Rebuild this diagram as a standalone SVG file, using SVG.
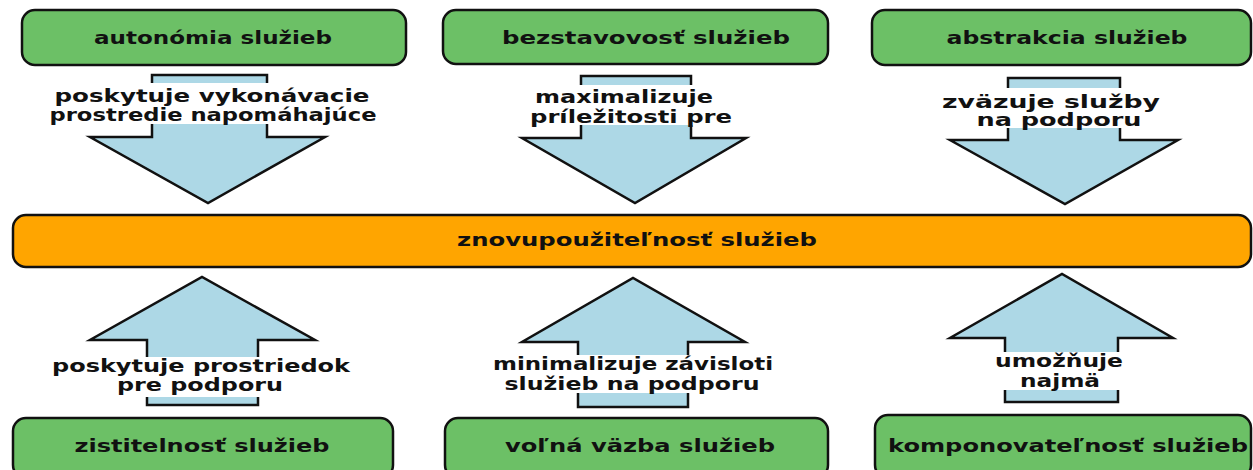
<svg xmlns="http://www.w3.org/2000/svg" width="1253" height="470" viewBox="0 0 1253 470">
  <style>
    .box { fill: #6cc066; stroke: #111; stroke-width: 2.5; }
    .core { fill: #ffa500; stroke: #111; stroke-width: 2.5; }
    .arrow { fill: #add8e6; stroke: #111; stroke-width: 2.5; stroke-linejoin: miter; }
    .band { fill: #fff; }
    text { font-family: "DejaVu Sans", "Liberation Sans", sans-serif; font-weight: bold; fill: #111; text-anchor: middle; }
    .t { font-size: 18px; }
    .l { font-size: 17px; }
  </style>

  <rect width="1253" height="470" fill="#fff"/>

  <!-- connectors: block arrows with their labels -->
  <g id="connectors">
    <g id="arrow-autonomia">
      <polygon class="arrow" points="152,75 267,75 267,137 325,137 208,203 90,137 152,137"/>
      <rect class="band" x="48" y="83" width="332" height="41"/>
      <text class="l" x="212" y="102" textLength="315" lengthAdjust="spacingAndGlyphs">poskytuje vykonávacie</text>
      <text class="l" x="213" y="121" textLength="327" lengthAdjust="spacingAndGlyphs">prostredie napomáhajúce</text>
    </g>
    <g id="arrow-bezstavovost">
      <polygon class="arrow" points="581,76 691,76 691,138 746,138 635,203 522,138 581,138"/>
      <rect class="band" x="528" y="85" width="207" height="40"/>
      <text class="l" x="624" y="103" textLength="178" lengthAdjust="spacingAndGlyphs">maximalizuje</text>
      <text class="l" x="631" y="123" textLength="202" lengthAdjust="spacingAndGlyphs">príležitosti pre</text>
    </g>
    <g id="arrow-abstrakcia">
      <polygon class="arrow" points="1008,78 1120,78 1120,140 1178,140 1065,204 950,140 1008,140"/>
      <rect class="band" x="940" y="88" width="222" height="40"/>
      <text class="l" x="1051" y="108" textLength="218" lengthAdjust="spacingAndGlyphs">zväzuje služby</text>
      <text class="l" x="1059" y="126" textLength="165" lengthAdjust="spacingAndGlyphs">na podporu</text>
    </g>
    <g id="arrow-zistitelnost">
      <polygon class="arrow" points="147,405 258,405 258,340 315,340 202,277 90,340 147,340"/>
      <rect class="band" x="50" y="357" width="302" height="40"/>
      <text class="l" x="201" y="372" textLength="298" lengthAdjust="spacingAndGlyphs">poskytuje prostriedok</text>
      <text class="l" x="200" y="391" textLength="166" lengthAdjust="spacingAndGlyphs">pre podporu</text>
    </g>
    <g id="arrow-volna-vazba">
      <polygon class="arrow" points="578,407 688,407 688,342 745,342 633,278 522,342 578,342"/>
      <rect class="band" x="491" y="355" width="284" height="38"/>
      <text class="l" x="633" y="370" textLength="280" lengthAdjust="spacingAndGlyphs">minimalizuje závisloti</text>
      <text class="l" x="632" y="390" textLength="255" lengthAdjust="spacingAndGlyphs">služieb na podporu</text>
    </g>
    <g id="arrow-komponovatelnost">
      <polygon class="arrow" points="1005,402 1118,402 1118,338 1173,338 1062,274 950,338 1005,338"/>
      <rect class="band" x="993" y="352" width="132" height="38"/>
      <text class="l" x="1059" y="367" textLength="128" lengthAdjust="spacingAndGlyphs">umožňuje</text>
      <text class="l" x="1060" y="387" textLength="80" lengthAdjust="spacingAndGlyphs">najmä</text>
    </g>
  </g>

  <!-- top principles -->
  <g id="autonomia">
    <rect class="box" x="22" y="10" width="384" height="55" rx="13"/>
    <text class="t" x="213" y="44" textLength="238" lengthAdjust="spacingAndGlyphs">autonómia služieb</text>
  </g>
  <g id="bezstavovost">
    <rect class="box" x="443" y="10" width="385" height="54" rx="13"/>
    <text class="t" x="646" y="44" textLength="288" lengthAdjust="spacingAndGlyphs">bezstavovosť služieb</text>
  </g>
  <g id="abstrakcia">
    <rect class="box" x="872" y="10" width="379" height="55" rx="13"/>
    <text class="t" x="1067" y="44" textLength="241" lengthAdjust="spacingAndGlyphs">abstrakcia služieb</text>
  </g>

  <!-- central goal -->
  <g id="znovupouzitelnost">
    <rect class="core" x="13" y="215" width="1238" height="52" rx="13"/>
    <text class="t" x="637" y="246" textLength="360" lengthAdjust="spacingAndGlyphs">znovupoužiteľnosť služieb</text>
  </g>

  <!-- bottom principles -->
  <g id="zistitelnost">
    <rect class="box" x="13" y="418" width="380" height="60" rx="13"/>
    <text class="t" x="202" y="452" textLength="255" lengthAdjust="spacingAndGlyphs">zistitelnosť služieb</text>
  </g>
  <g id="volna-vazba">
    <rect class="box" x="445" y="418" width="383" height="60" rx="13"/>
    <text class="t" x="640" y="452" textLength="270" lengthAdjust="spacingAndGlyphs">voľná väzba služieb</text>
  </g>
  <g id="komponovatelnost">
    <rect class="box" x="875" y="415" width="376" height="63" rx="13"/>
    <text class="t" x="1068" y="452" textLength="360" lengthAdjust="spacingAndGlyphs">komponovateľnosť služieb</text>
  </g>
</svg>
